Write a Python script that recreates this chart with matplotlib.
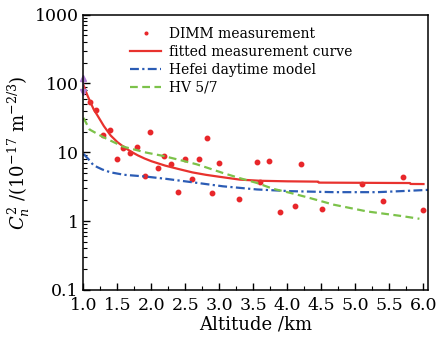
"""
Cn2 profile versus altitude: DIMM points, fitted curve and two models
"""

import numpy as np
import matplotlib
matplotlib.use('Agg')
import matplotlib.pyplot as plt
from matplotlib.ticker import MultipleLocator, LogLocator, NullFormatter

plt.rcParams['font.family'] = ['DejaVu Serif']
plt.rcParams['mathtext.fontset'] = 'dejavuserif'

# DIMM measurement points (altitude km, Cn2 in 1e-17 m^-2/3)
dimm_alt = [1.09, 1.19, 1.28, 1.39, 1.49, 1.58, 1.69, 1.79, 1.90, 1.98,
            2.10, 2.19, 2.29, 2.39, 2.50, 2.60, 2.70, 2.81, 2.89, 3.00,
            3.29, 3.55, 3.60, 3.73, 3.89, 4.11, 4.20, 4.51, 5.10, 5.40,
            5.70, 6.00]
dimm_cn2 = [53, 41.6, 18.1, 21.4, 7.9, 11.7, 9.9, 12.0, 4.56, 19.6,
            5.9, 8.85, 6.7, 2.63, 8.1, 4.1, 7.9, 16.3, 2.55, 6.9,
            2.06, 7.1, 3.67, 7.4, 1.36, 1.63, 6.7, 1.51, 3.46, 1.93,
            4.4, 1.43]

# violet marks at the left edge
edge_alt = [1.0, 1.0]
edge_cn2 = [120, 76]

# fitted measurement curve
fit_alt = [1.0, 1.05, 1.1, 1.15, 1.2, 1.3, 1.4, 1.5, 1.6, 1.7, 1.8, 1.9,
           2.0, 2.2, 2.4, 2.6, 2.8, 3.0, 3.3, 3.6, 4.0, 4.45, 4.46, 5.0,
           5.5, 5.8, 5.81, 6.0]
fit_cn2 = [95, 70, 54, 42, 35, 24, 17.5, 14, 11.8, 10.2, 9.0, 8.1,
           7.4, 6.4, 5.7, 5.1, 4.7, 4.4, 4.0, 3.85, 3.78, 3.74, 3.62, 3.6,
           3.58, 3.57, 3.46, 3.45]

# Hefei daytime model
hefei_alt = [1.0, 1.04, 1.08, 1.14, 1.2, 1.28, 1.4, 1.6, 1.9, 2.22, 2.66,
             3.05, 3.55, 4.04, 4.68, 5.32, 5.66, 6.07]
hefei_cn2 = [9.5, 8.6, 7.8, 6.6, 6.1, 5.6, 5.1, 4.7, 4.45, 4.1, 3.6,
             3.2, 2.88, 2.72, 2.63, 2.63, 2.72, 2.84]

# HV 5/7 model
hv_alt = [1.0, 1.09, 1.28, 1.58, 1.92, 2.17, 2.42, 2.66, 2.81, 3.05, 3.30,
          3.55, 3.79, 4.04, 4.28, 4.68, 5.17, 5.66, 5.94]
hv_cn2 = [31.6, 21.4, 16.8, 12.1, 9.9, 8.85, 7.7, 6.7, 6.0, 5.0, 4.2,
          3.58, 2.94, 2.57, 2.23, 1.73, 1.38, 1.19, 1.08]

xticks = [1.0, 1.5, 2.0, 2.5, 3.0, 3.5, 4.0, 4.5, 5.0, 5.5, 6.0]
yticks = [0.1, 1, 10, 100, 1000]
ytick_labels = ['0.1', '1', '10', '100', '1000']

fig = plt.figure(figsize=(4.37, 3.48), dpi=100)
ax = fig.add_axes([0.191, 0.167, 0.789, 0.791])

ax.plot(dimm_alt, dimm_cn2, linestyle='none', marker='o', markersize=3.2,
        color='#e8262a', label='DIMM measurement')
ax.plot(fit_alt, fit_cn2, color='#e8322e', linewidth=1.6,
        label='fitted measurement curve')
ax.plot(hefei_alt, hefei_cn2, color='#2b5cb5', linewidth=1.6,
        linestyle=(0, (4, 1.5, 1, 1.5)), label='Hefei daytime model')
ax.plot(hv_alt, hv_cn2, color='#7cc24a', linewidth=1.6,
        linestyle=(0, (3.5, 2)), label='HV 5/7')

# violet marks at x = 1.0
ax.plot(edge_alt, edge_cn2, color='#b07fd6', linewidth=1.0, clip_on=False)
ax.plot(edge_alt[:1], edge_cn2[:1], linestyle='none', marker='^',
        markersize=4, color='#b07fd6', clip_on=False)
ax.plot(edge_alt[1:], edge_cn2[1:], linestyle='none', marker='v',
        markersize=4, color='#b07fd6', clip_on=False)

ax.set_yscale('log')
ax.set_xlim(1.0, 6.07)
ax.set_ylim(0.1, 1000)
ax.set_xticks(xticks)
ax.set_xticklabels([f'{v:.1f}' for v in xticks])
ax.xaxis.set_minor_locator(MultipleLocator(0.25))
ax.set_yticks(yticks)
ax.set_yticklabels(ytick_labels)
ax.yaxis.set_minor_locator(LogLocator(base=10, subs=np.arange(2, 10)))
ax.yaxis.set_minor_formatter(NullFormatter())

ax.tick_params(which='both', direction='in', top=False, right=False,
               labelsize=12.5)
ax.tick_params(which='major', length=5, width=1)
ax.tick_params(which='minor', length=3, width=0.8)
ax.tick_params(axis='x', pad=5)
for s in ax.spines.values():
    s.set_linewidth(1.1)

ax.set_xlabel('Altitude /km', fontsize=13, labelpad=1)
ax.set_ylabel(r'$C_n^2$ /(10$^{-17}$ m$^{-2/3}$)', fontsize=13, labelpad=2)

ax.legend(loc='upper left', bbox_to_anchor=(0.136, 0.955), frameon=False,
          fontsize=10, handlelength=2.2, handletextpad=0.6,
          labelspacing=0.28, borderpad=0, borderaxespad=0, markerscale=0.6)

fig.savefig('out.png', dpi=100)
